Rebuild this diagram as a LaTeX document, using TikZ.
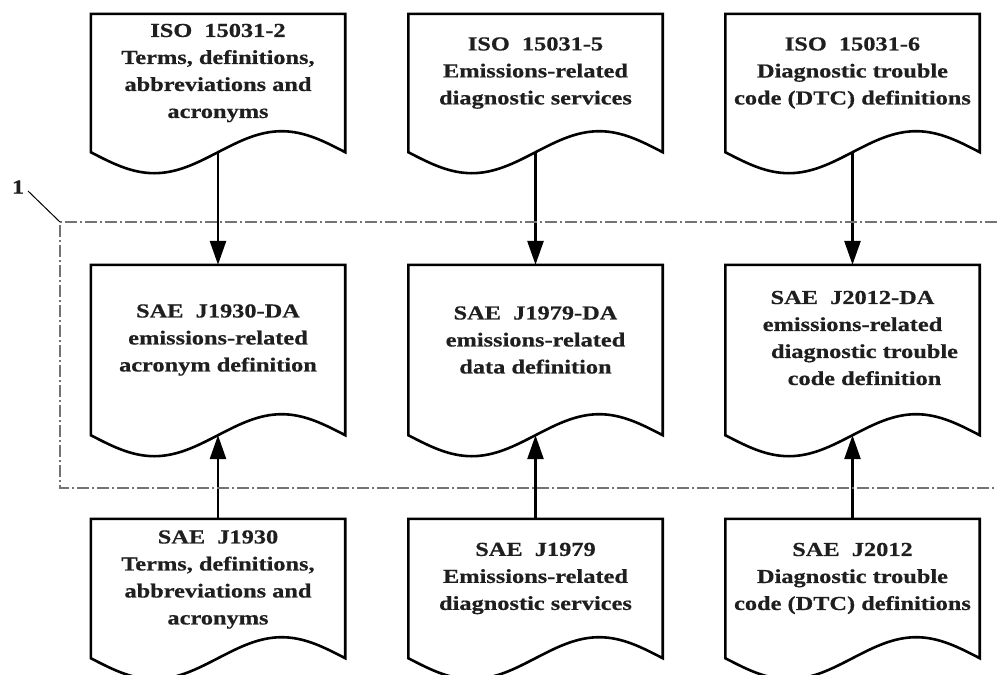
\documentclass[tikz,border=0pt]{standalone}
\usepackage{fontspec}
\newfontfamily\labfont{Liberation Serif}[FakeStretch=1.23,BoldFeatures={FakeBold=0.6}]
\usetikzlibrary{arrows.meta,calc}
\newcommand\docoutline[1]{%
  \draw[boxline] (#1.south west) -- (#1.north west) -- (#1.north east) -- (#1.south east)
    sin ($(#1.south east)+(-63.5,-21)$) cos (#1.south)
    sin ($(#1.south west)+(63.5,21)$) cos (#1.south west) -- cycle;}
\begin{document}
\begin{tikzpicture}[x=1pt,y=-1pt,
  boxline/.style={line width=2.6pt, line join=miter},
  docbox/.style={minimum width=254pt, minimum height=#1, inner sep=0pt},
  doctext/.style={font=\labfont\bfseries\fontsize{19.8}{27}\selectfont, text=black!88, align=center, inner sep=0pt},
  flow/.style={line width=2.8pt, -{Triangle[length=24pt,width=16pt]}},
  group/.style={draw=black!55, line width=1.3pt, dash pattern=on 12pt off 3pt on 2pt off 3pt}
]
\useasboundingbox (0,0) rectangle (997,675);
% shapes
\node[docbox=138pt] (iso2) at (218,83) {};
\node[docbox=138pt] (iso5) at (535.5,83) {};
\node[docbox=138pt] (iso6) at (852.5,83) {};
\node[docbox=170pt] (da1930) at (218,350) {};
\node[docbox=170pt] (da1979) at (535.5,350) {};
\node[docbox=170pt] (da2012) at (852.5,350) {};
\node[docbox=139pt] (j1930) at (218,588.5) {};
\node[docbox=139pt] (j1979) at (535.5,588.5) {};
\node[docbox=139pt] (j2012) at (852.5,588.5) {};
\foreach \n in {iso2,iso5,iso6,da1930,da1979,da2012,j1930,j1979,j2012}{\docoutline{\n}}
% texts
\node[doctext] (iso2t) at ($(iso2.center)+(0,-10)$) {ISO~~15031-2\\Terms, definitions,\\abbreviations and\\acronyms};
\node[doctext] (iso5t) at ($(iso5.center)+(0,-10)$) {ISO~~15031-5\\Emissions-related\\diagnostic services};
\node[doctext] (iso6t) at ($(iso6.center)+(0,-10)$) {ISO~~15031-6\\Diagnostic trouble\\code (DTC) definitions};
\node[doctext] (da1930t) at ($(da1930.center)+(0,-10)$) {SAE~~J1930-DA\\emissions-related\\acronym definition};
\node[doctext] (da1979t) at ($(da1979.center)+(0,-10)$) {SAE~~J1979-DA\\emissions-related\\data definition};
\node[doctext] (da2012t) at ($(da2012.center)+(0,-12)$) {SAE~~J2012-DA\\emissions-related\\\hspace*{24pt}diagnostic trouble\\\hspace*{24pt}code definition};
\node[doctext] (j1930t) at ($(j1930.center)+(0,-9)$) {SAE~~J1930\\Terms, definitions,\\abbreviations and\\acronyms};
\node[doctext] (j1979t) at ($(j1979.center)+(0,-10)$) {SAE~~J1979\\Emissions-related\\diagnostic services};
\node[doctext] (j2012t) at ($(j2012.center)+(0,-10)$) {SAE~~J2012\\Diagnostic trouble\\code (DTC) definitions};
% connectors
\draw[flow] (iso2.south) -- (da1930.north);
\draw[flow] (iso5.south) -- (da1979.north);
\draw[flow] (iso6.south) -- (da2012.north);
\draw[flow] (j1930.north) -- (da1930.south);
\draw[flow] (j1979.north) -- (da1979.south);
\draw[flow] (j2012.north) -- (da2012.south);
% group boundary
\coordinate (gTR) at (997,222);
\coordinate (gTL) at (60,222);
\coordinate (gBL) at (60,488);
\coordinate (gBR) at (997,488);
\draw[group] (gTR) -- (gTL) -- (gBL) -- (gBR);
\node[doctext] (lab1) at (18,187) {1};
\coordinate (leadstart) at (28,191);
\draw[line width=1pt] (leadstart) -- (gTL);
\end{tikzpicture}
\end{document}
